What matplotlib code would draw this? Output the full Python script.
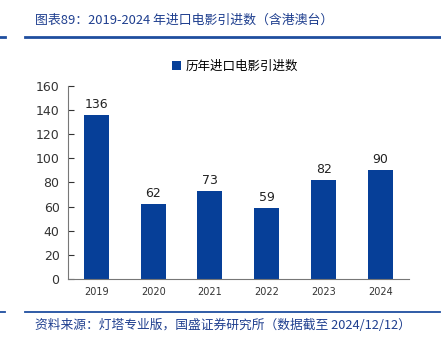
import matplotlib
matplotlib.use("Agg")
import matplotlib.pyplot as plt
from matplotlib.lines import Line2D

plt.rcParams['font.family'] = ['Noto Sans CJK SC', 'DejaVu Sans']

years = ['2019', '2020', '2021', '2022', '2023', '2024']
values = [136, 62, 73, 59, 82, 90]
series_name = '历年进口电影引进数'
title = '图表89：2019-2024 年进口电影引进数（含港澳台）'
source = '资料来源：灯塔专业版，国盛证券研究所（数据截至 2024/12/12）'

bar_color = '#063F98'
line_color = '#1F4E9F'
text_color = '#1F3F8F'

fig = plt.figure(figsize=(4.41, 3.41), dpi=100)
ax = fig.add_axes([0.154, 0.182, 0.773, 0.566])

x = range(len(years))
ax.bar(x, values, width=0.44, color=bar_color, label=series_name)
for xi, v in zip(x, values):
    ax.text(xi, v + 3.5, str(v), ha='center', va='bottom', fontsize=9, color='#222222',
            family=['DejaVu Sans'])

ax.set_xlim(-0.5, 5.5)
ax.set_ylim(0, 160)
ax.set_yticks(range(0, 161, 20))
ax.set_xticks(list(x))
ax.set_xticklabels(years, fontsize=7, family=['DejaVu Sans'])
ax.tick_params(axis='y', labelsize=9, length=4, direction='in', colors='#333333', pad=6)
ax.tick_params(axis='x', length=0, pad=6, colors='#333333')
for lab in ax.get_yticklabels():
    lab.set_family(['DejaVu Sans'])
ax.spines['top'].set_visible(False)
ax.spines['right'].set_visible(False)
ax.spines['left'].set_color('#777777')
ax.spines['bottom'].set_color('#777777')

ax.legend(loc='lower center', bbox_to_anchor=(0.49, 1.01), frameon=False, fontsize=9,
          handlelength=0.7, handleheight=0.7, handletextpad=0.4)

fig.text(0.08, 0.94, title, fontsize=9.3, color=text_color, va='center', ha='left')
fig.add_artist(Line2D([0.057, 0.998], [0.891, 0.891], color=line_color, lw=2))
fig.add_artist(Line2D([0.0, 0.012], [0.891, 0.891], color=line_color, lw=2))
fig.add_artist(Line2D([0.057, 0.998], [0.085, 0.085], color=line_color, lw=1.3))
fig.add_artist(Line2D([0.0, 0.012], [0.085, 0.085], color=line_color, lw=1.3))
fig.text(0.08, 0.045, source, fontsize=9.2, color=text_color, va='center', ha='left')

fig.savefig('out.png', dpi=100)
